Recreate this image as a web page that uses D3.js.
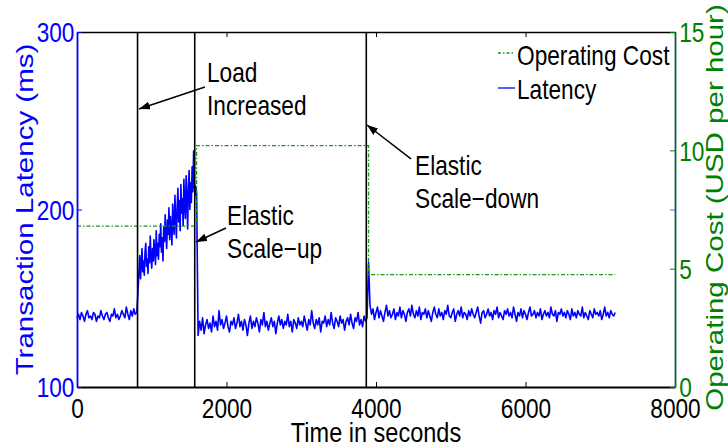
<!DOCTYPE html>
<html>
<head>
<meta charset="utf-8">
<script src="https://cdn.jsdelivr.net/npm/d3@7"></script>
<style>
  body { margin: 0; background: #fff; }
  text { font-family: "Liberation Sans", Arial, Helvetica, sans-serif; }
</style>
</head>
<body>
<div id="chart"></div>
<script>
// latency samples split by phase (20 s apart, 10 s during the load ramp)
var timeStep = 20;

var baseStart = 0;
var baseLatency = [139,141,138,142,140,137,141,143,139,140,138,142,141,137,140,139,143,140,138,141,
  142,139,137,141,140,144,139,141,138,140,143,141,139,145,141,138,143,140,144,141,142];

var loadStart = 820, loadStep = 10;
var loadLatency = [157,166,174,161,169,178,165,171,163,176,181,168,172,164,179,170,185,173,167,178,
  171,183,176,169,188,174,181,172,186,179,192,176,184,171,190,182,197,185,178,194,
  186,201,183,196,189,180,203,192,186,208,195,184,201,212,193,205,188,214,198,206,
  191,217,202,195,219,207,189,213,222,200,215,204,224,210,233,214,208,213,209];

var scaleUpStart = 1620;
var scaleUpLatency = [129,137,132,139,130,135,138,133,136,131,140,134,137,132,143,135,138,133,136,140,
  134,131,137,135,139,133,136,141,134,137,132,138,135,129,136,140,133,137,134,139,
  136,131,138,135,142,134,137,132,136,139,134,137,130,136,140,135,138,133,137,135,
  141,134,137,131,138,136,133,139,135,137,134,140,136,132,138,135,143,136,133,138,
  135,139,131,137,136,140,134,138,135,142,136,133,139,137,134,140,136,138,132,137,
  139,135,141,136,133,139,137,142,135,138,134,140,137,139];

var scaleDownStart = 3900;
var scaleDownLatency = [170,146,141,144,138,142,145,139,143,140,137,142,146,140,143,139,141,144,138,142,
  140,145,139,143,141,137,142,144,140,146,141,139,143,140,145,138,142,141,144,139,
  143,140,137,142,145,141,139,144,140,142,138,143,141,146,140,139,142,144,137,141,
  143,140,145,139,142,141,138,143,140,144,141,139,142,145,140,136,142,143,139,141,
  144,140,142,138,143,141,145,139,142,140,138,143,141,144,140,142,139,145,141,137,
  142,140,144,139,143,141,138,142,145,140,141,143,139,142,140,144,138,141,143,140,
  142,139,145,141,140,143,137,142,141,144,140,142,139,143,141,138,144,140,142,139,
  143,141,140,145,139,142,140,138,143,141,139,144,141,142,140,143,138,141,145,140,
  142,139,143,141,140,142];

// operating cost (USD per hour), step function
var costTimes = [0, 1600, 1600, 3900, 3900, 7200];
var costValues = [6.8, 6.8, 10.2, 10.2, 4.75, 4.75];

// load increase, scale-up, scale-down
var eventTimes = [810, 1575, 3870];

var xTicks = [0, 2000, 4000, 6000, 8000];
var yTicks = [100, 200, 300];
var y2Ticks = [0, 5, 10, 15];

// dimensions
var margin = {top: 32, right: 53, bottom: 60, left: 77},
    width = 728 - margin.left - margin.right,
    height = 447 - margin.top - margin.bottom;

var blue = "#0000ff", green = "#008000", lineGreen = "#1a961a";
var sx = 0.84; // text in the picture is horizontally squeezed

var svg = d3.select("#chart")
  .append("svg")
    .attr("width", 728)
    .attr("height", 447)
  .append("g")
    .attr("transform", "translate(" + margin.left + "," + margin.top + ")");

var x = d3.scaleLinear().domain([0, 8000]).range([0, width]);
var y = d3.scaleLinear().domain([100, 300]).range([height, 0]);
var y2 = d3.scaleLinear().domain([0, 15]).range([height, 0]);

function segment(start, vals, step) {
  return vals.map(function(v, i) { return {t: start + i * step, v: v}; });
}
var latency = segment(baseStart, baseLatency, timeStep)
  .concat(segment(loadStart, loadLatency, loadStep))
  .concat(segment(scaleUpStart, scaleUpLatency, timeStep))
  .concat(segment(scaleDownStart, scaleDownLatency, timeStep));

var cost = costTimes.map(function(t, i) { return {t: t, v: costValues[i]}; });

// latency line
svg.append("path")
  .datum(latency)
  .attr("fill", "none")
  .attr("stroke", blue)
  .attr("stroke-width", 1.6)
  .attr("stroke-linejoin", "round")
  .attr("d", d3.line().x(function(d) { return x(d.t); }).y(function(d) { return y(d.v); }));

// cost line
svg.append("path")
  .datum(cost)
  .attr("fill", "none")
  .attr("stroke", lineGreen)
  .attr("stroke-width", 1.3)
  .attr("stroke-dasharray", "4,2,1.5,2")
  .attr("d", d3.line().x(function(d) { return x(d.t); }).y(function(d) { return y2(d.v); }));

// event lines
svg.selectAll(".event")
  .data(eventTimes)
  .enter()
  .append("line")
    .attr("x1", function(d) { return x(d); })
    .attr("x2", function(d) { return x(d); })
    .attr("y1", 0)
    .attr("y2", height)
    .attr("stroke", "black")
    .attr("stroke-width", 1.6);

// axes
var bottomAxis = svg.append("g")
  .attr("transform", "translate(0," + height + ")")
  .call(d3.axisBottom(x).tickValues(xTicks).tickSize(-5).tickSizeOuter(0).tickFormat(d3.format("d")));
bottomAxis.select(".domain").attr("stroke", "black").attr("stroke-width", 2);
bottomAxis.selectAll(".tick line").attr("stroke", "black");
bottomAxis.selectAll("text")
  .attr("y", 31).attr("dy", null)
  .attr("fill", "black")
  .style("font-size", "27px")
  .attr("transform", "scale(" + sx + ",1)");

var topAxis = svg.append("g")
  .call(d3.axisTop(x).tickValues(xTicks).tickSize(-5).tickSizeOuter(0).tickFormat(""));
topAxis.select(".domain").attr("stroke", "black").attr("stroke-width", 1.5);
topAxis.selectAll(".tick line").attr("stroke", "black");

var leftAxis = svg.append("g")
  .call(d3.axisLeft(y).tickValues(yTicks).tickSize(-5).tickSizeOuter(0).tickPadding(3));
leftAxis.select(".domain").attr("stroke", blue).attr("stroke-width", 1.8);
leftAxis.selectAll(".tick line").attr("stroke", blue);
leftAxis.selectAll("text")
  .attr("fill", blue)
  .attr("dy", "0.36em")
  .style("font-size", "27px")
  .attr("transform", "scale(" + sx + ",1)");

// latency ticks mirrored on the right
var leftMirror = svg.append("g")
  .attr("transform", "translate(" + width + ",0)")
  .call(d3.axisRight(y).tickValues(yTicks).tickSize(-5).tickSizeOuter(0).tickFormat(""));
leftMirror.select(".domain").remove();
leftMirror.selectAll(".tick line").attr("stroke", "#6666ff");

var rightAxis = svg.append("g")
  .attr("transform", "translate(" + width + ",0)")
  .call(d3.axisRight(y2).tickValues(y2Ticks).tickSize(-5).tickSizeOuter(0).tickPadding(5));
rightAxis.select(".domain").attr("stroke", "#0b5d48").attr("stroke-width", 1.8);
rightAxis.selectAll(".tick line").attr("stroke", green);
rightAxis.selectAll("text")
  .attr("fill", green)
  .attr("dy", "0.36em")
  .style("font-size", "27px")
  .attr("transform", "scale(" + sx + ",1)");

// axis titles
function label(txt, px, py, size, color, rotate) {
  svg.append("text")
    .attr("transform", "translate(" + px + "," + py + ")" +
      (rotate ? " rotate(-90) scale(1," + sx + ")" : " scale(" + sx + ",1)"))
    .attr("text-anchor", "middle")
    .attr("fill", color)
    .style("font-size", size + "px")
    .text(txt);
}
label("Time in seconds", width / 2, height + 55, 28, "black", false);
label("Transaction Latency (ms)", -44, height / 2, 29.5, blue, true);
label("Operating Cost (USD per hour)", width + 48, height / 2 - 2, 29.5, green, true);

// annotations, positioned in data units
svg.append("defs").append("marker")
    .attr("id", "head")
    .attr("markerUnits", "userSpaceOnUse")
    .attr("markerWidth", 11)
    .attr("markerHeight", 8)
    .attr("refX", 11)
    .attr("refY", 4)
    .attr("orient", "auto")
  .append("path")
    .attr("d", "M0,0 L11,4 L0,8 z")
    .attr("fill", "black");

var notes = [
  {lines: ["Load", "Increased"], t: 1739, v: 271.8, from: [1712, 269], to: [829, 256.6]},
  {lines: ["Elastic", "Scale\u2212up"], t: 2007, v: 191.3, from: [1993, 189.6], to: [1592, 181.7]},
  {lines: ["Elastic", "Scale\u2212down"], t: 4522, v: 219.4, from: [4468, 228.5], to: [3880, 247.6]}
];
notes.forEach(function(n) {
  n.lines.forEach(function(s, i) {
    svg.append("text")
      .attr("transform", "translate(" + x(n.t) + "," + (y(n.v) + i * 33) + ") scale(" + sx + ",1)")
      .attr("fill", "black")
      .style("font-size", "27px")
      .text(s);
  });
  svg.append("line")
    .attr("x1", x(n.from[0])).attr("y1", y(n.from[1]))
    .attr("x2", x(n.to[0])).attr("y2", y(n.to[1]))
    .attr("stroke", "black")
    .attr("stroke-width", 1.5)
    .attr("marker-end", "url(#head)");
});

// legend
var legend = svg.append("g").attr("transform", "translate(421,21)");
var legendItems = [
  {name: "Operating Cost", color: lineGreen, dash: "3,2,1.5,2"},
  {name: "Latency", color: blue, dash: null}
];
legendItems.forEach(function(d, i) {
  legend.append("line")
    .attr("x1", 0).attr("x2", 17)
    .attr("y1", i * 35).attr("y2", i * 35)
    .attr("stroke", d.color)
    .attr("stroke-width", 1.3)
    .attr("stroke-dasharray", d.dash);
  legend.append("text")
    .attr("transform", "translate(19," + (i * 34 + 12) + ") scale(" + sx + ",1)")
    .attr("fill", "black")
    .style("font-size", "27px")
    .text(d.name);
});
</script>
</body>
</html>
